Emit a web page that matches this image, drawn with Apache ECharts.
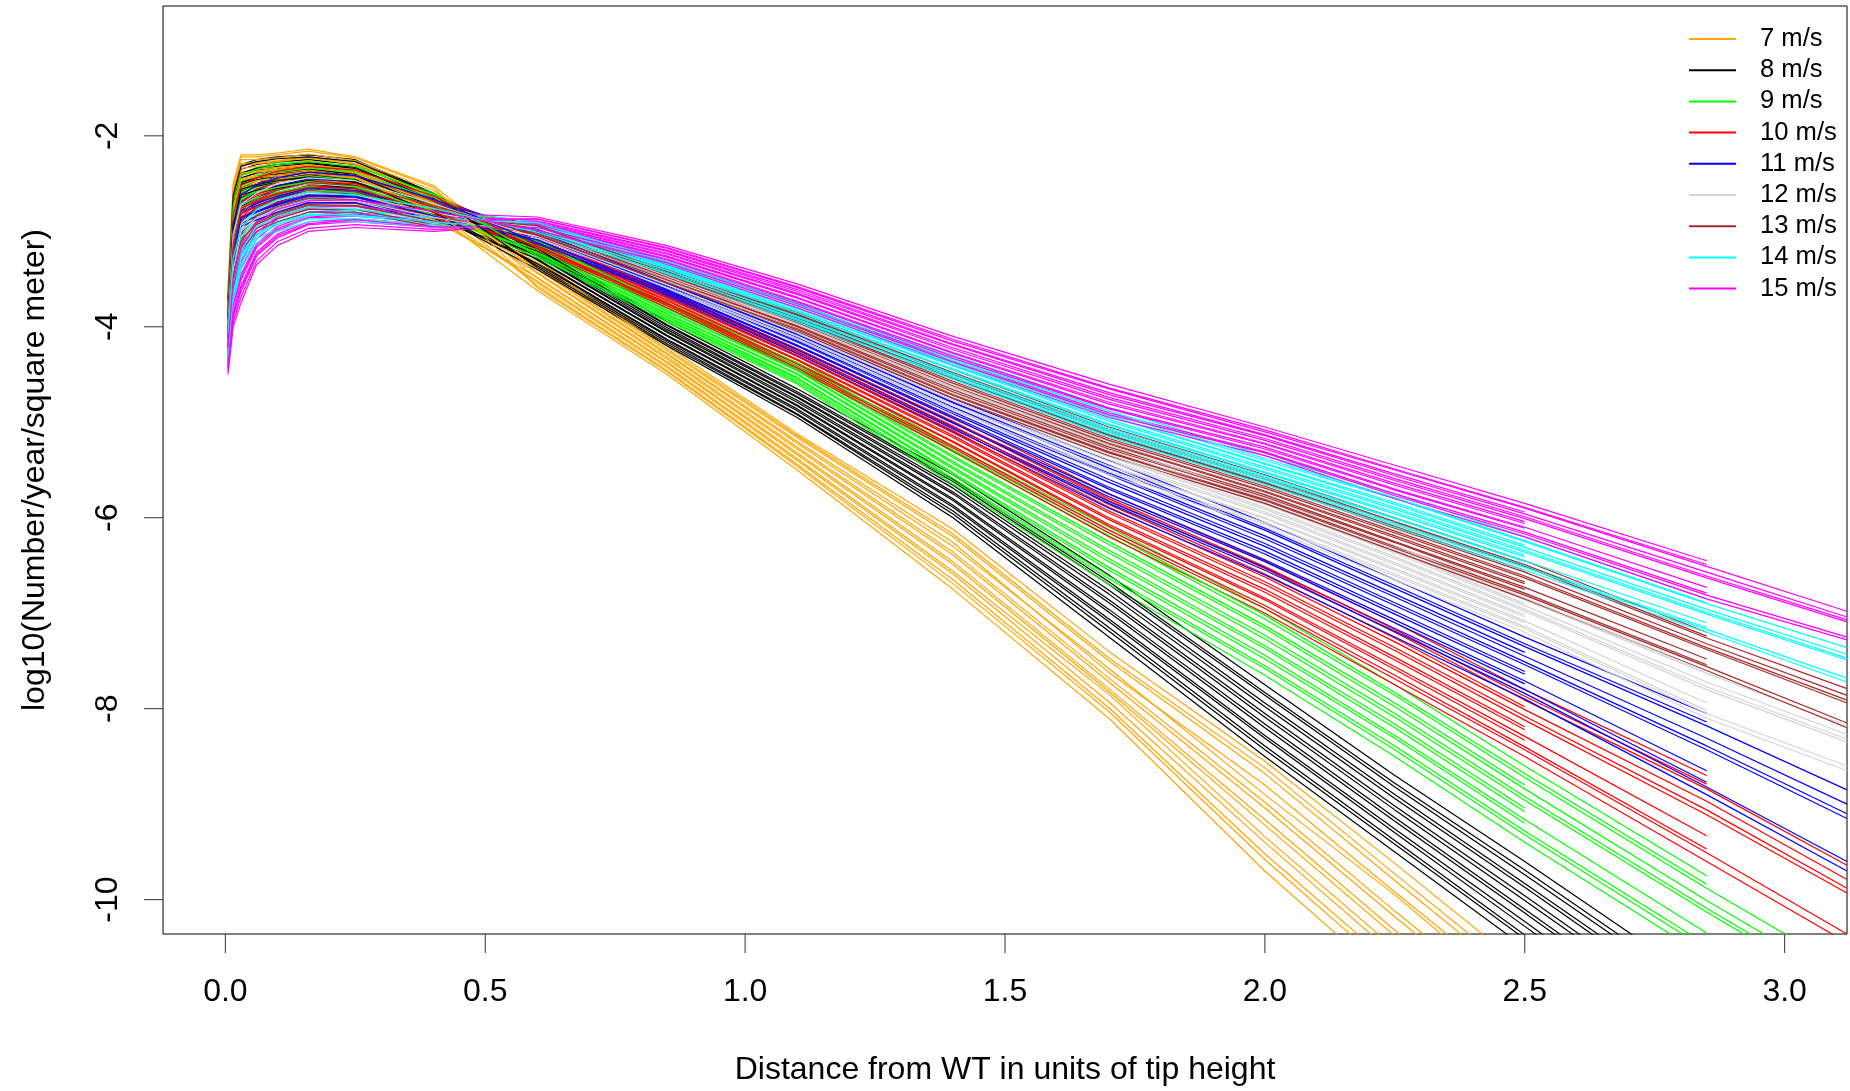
<!DOCTYPE html>
<html>
<head>
<meta charset="utf-8">
<script src="https://cdn.jsdelivr.net/npm/echarts@6/dist/echarts.min.js"></script>
<style>
  html, body { margin: 0; padding: 0; background: #fff; }
  #chart { width: 1850px; height: 1091px; }
</style>
</head>
<body>
<div id="chart"></div>
<script>
// Distance from the turbine (units of tip height) at which each curve is sampled
const distance = [0.005, 0.015, 0.03, 0.06, 0.1, 0.16, 0.25, 0.4, 0.6, 0.85, 1.1, 1.4, 1.7, 2.0, 2.25, 2.5, 2.85, 3.12];

const speedLabels = ['7 m/s', '8 m/s', '9 m/s', '10 m/s', '11 m/s', '12 m/s', '13 m/s', '14 m/s', '15 m/s'];
const speedColors = ['#FFA500', '#000000', '#00FF00', '#FF0000', '#0000FF', '#D3D3D3', '#A52A2A', '#00FFFF', '#FF00FF'];

const xTicks = [0, 0.5, 1, 1.5, 2, 2.5, 3];
const yTicks = [-10, -8, -6, -4, -2];

// log10(Number/year/square meter), one row per curve
const speed7 = [
  [-3.60, -2.50, -2.20, -2.20, -2.18, -2.14, -2.22, -2.52, -3.40, -4.29, -5.22, -6.30, -7.58, -8.90, -9.95, -11.10],
  [-3.65, -2.58, -2.25, -2.25, -2.23, -2.19, -2.26, -2.57, -3.30, -4.20, -5.12, -6.12, -7.40, -8.55, -9.62, -10.72],
  [-3.70, -2.65, -2.31, -2.29, -2.27, -2.23, -2.30, -2.63, -3.49, -4.38, -5.34, -6.49, -7.82, -9.22, -10.38, -11.48],
  [-3.74, -2.70, -2.34, -2.32, -2.30, -2.26, -2.33, -2.66, -3.35, -4.25, -5.16, -6.20, -7.50, -8.68, -9.80, -10.90],
  [-3.78, -2.75, -2.38, -2.35, -2.33, -2.30, -2.36, -2.70, -3.57, -4.46, -5.44, -6.65, -7.99, -9.52, -10.70, -11.80],
  [-3.81, -2.80, -2.41, -2.38, -2.36, -2.33, -2.39, -2.74, -3.44, -4.34, -5.28, -6.39, -7.72, -9.04, -10.18, -11.28],
  [-3.85, -2.85, -2.45, -2.41, -2.39, -2.36, -2.42, -2.77, -3.38, -4.28, -5.20, -6.26, -7.62, -8.80, -9.92, -11.02],
  [-3.88, -2.90, -2.48, -2.44, -2.42, -2.39, -2.44, -2.81, -3.62, -4.50, -5.50, -6.75, -8.10, -9.70, -10.90, -12.00],
  [-3.92, -2.95, -2.52, -2.47, -2.45, -2.42, -2.47, -2.84, -3.52, -4.41, -5.38, -6.56, -7.85, -9.34, -10.51, -11.61],
  [-3.95, -3.00, -2.55, -2.50, -2.48, -2.45, -2.50, -2.88, -3.48, -4.37, -5.32, -6.46, -7.79, -9.16, -10.32, -11.42],
  [-3.69, -2.63, -2.29, -2.28, -2.26, -2.22, -2.29, -2.61, -3.43, -4.32, -5.26, -6.36, -7.68, -8.98, -10.12, -11.22],
  [-3.79, -2.78, -2.39, -2.37, -2.35, -2.31, -2.37, -2.72, -3.33, -4.23, -5.14, -6.17, -7.47, -8.62, -9.73, -10.83],
  [-3.86, -2.88, -2.46, -2.43, -2.41, -2.37, -2.43, -2.79, -3.54, -4.43, -5.40, -6.59, -7.93, -9.40, -10.58, -11.68],
  [-3.62, -2.53, -2.22, -2.22, -2.20, -2.16, -2.23, -2.54, -3.59, -4.47, -5.46, -6.69, -8.03, -9.58, -10.77, -11.87]
];
const speed8 = [
  [-3.70, -2.60, -2.30, -2.25, -2.22, -2.20, -2.25, -2.60, -3.23, -4.03, -4.74, -5.69, -6.80, -7.98, -8.94, -9.87, -11.20],
  [-3.75, -2.68, -2.35, -2.30, -2.27, -2.25, -2.30, -2.64, -3.15, -3.95, -4.65, -5.55, -6.60, -7.75, -8.70, -9.60, -10.90],
  [-3.79, -2.75, -2.41, -2.36, -2.32, -2.29, -2.34, -2.68, -3.30, -4.10, -4.83, -5.82, -6.99, -8.20, -9.18, -10.14, -11.50],
  [-3.82, -2.80, -2.44, -2.39, -2.35, -2.32, -2.37, -2.70, -3.19, -3.99, -4.70, -5.62, -6.70, -7.86, -8.82, -9.74, -11.05],
  [-3.85, -2.85, -2.48, -2.43, -2.39, -2.35, -2.40, -2.73, -3.36, -4.16, -4.91, -5.93, -7.15, -8.39, -9.38, -10.37, -11.75],
  [-3.88, -2.90, -2.51, -2.46, -2.42, -2.38, -2.43, -2.76, -3.26, -4.06, -4.79, -5.75, -6.89, -8.09, -9.06, -10.01, -11.35],
  [-3.91, -2.95, -2.55, -2.50, -2.45, -2.41, -2.46, -2.78, -3.21, -4.01, -4.73, -5.66, -6.76, -7.94, -8.90, -9.83, -11.15],
  [-3.94, -3.00, -2.58, -2.53, -2.48, -2.44, -2.49, -2.81, -3.40, -4.20, -4.95, -6.00, -7.25, -8.50, -9.50, -10.50, -11.90],
  [-3.97, -3.05, -2.62, -2.57, -2.52, -2.47, -2.52, -2.83, -3.33, -4.13, -4.86, -5.87, -7.06, -8.28, -9.26, -10.23, -11.60],
  [-4.00, -3.10, -2.65, -2.60, -2.55, -2.50, -2.55, -2.86, -3.29, -4.09, -4.82, -5.80, -6.96, -8.16, -9.14, -10.10, -11.45],
  [-3.78, -2.73, -2.39, -2.34, -2.30, -2.28, -2.33, -2.67, -3.25, -4.05, -4.77, -5.73, -6.86, -8.05, -9.02, -9.96, -11.30],
  [-3.87, -2.88, -2.49, -2.44, -2.40, -2.37, -2.42, -2.74, -3.18, -3.98, -4.68, -5.60, -6.67, -7.83, -8.78, -9.69, -11.00],
  [-3.93, -2.98, -2.56, -2.51, -2.47, -2.43, -2.48, -2.80, -3.34, -4.14, -4.88, -5.89, -7.09, -8.31, -9.30, -10.28, -11.65],
  [-3.72, -2.63, -2.32, -2.27, -2.24, -2.22, -2.27, -2.61, -3.38, -4.18, -4.92, -5.96, -7.19, -8.43, -9.42, -10.41, -11.80]
];
const speed9 = [
  [-3.75, -2.70, -2.40, -2.33, -2.28, -2.25, -2.30, -2.60, -3.14, -3.81, -4.43, -5.37, -6.28, -7.16, -7.98, -8.84, -10.01, -10.87],
  [-3.80, -2.78, -2.45, -2.38, -2.33, -2.30, -2.35, -2.64, -3.08, -3.75, -4.35, -5.25, -6.10, -6.95, -7.75, -8.60, -9.75],
  [-3.84, -2.85, -2.51, -2.44, -2.38, -2.34, -2.39, -2.68, -3.20, -3.87, -4.50, -5.49, -6.46, -7.37, -8.20, -9.08],
  [-3.87, -2.90, -2.54, -2.47, -2.42, -2.37, -2.42, -2.70, -3.11, -3.78, -4.39, -5.31, -6.19, -7.06, -7.86, -8.72, -9.88, -10.74],
  [-3.90, -2.95, -2.58, -2.51, -2.45, -2.41, -2.45, -2.73, -3.25, -3.92, -4.56, -5.59, -6.61, -7.55, -8.39, -9.28, -10.47],
  [-3.93, -3.00, -2.61, -2.54, -2.48, -2.44, -2.48, -2.75, -3.17, -3.84, -4.46, -5.43, -6.37, -7.27, -8.09, -8.96, -10.13, -11.00],
  [-3.96, -3.05, -2.65, -2.58, -2.52, -2.47, -2.51, -2.78, -3.13, -3.80, -4.41, -5.35, -6.25, -7.13, -7.94, -8.80],
  [-3.99, -3.10, -2.68, -2.61, -2.55, -2.50, -2.54, -2.80, -3.28, -3.95, -4.60, -5.65, -6.70, -7.65, -8.50, -9.40, -10.60, -11.50],
  [-4.02, -3.15, -2.72, -2.65, -2.59, -2.53, -2.57, -2.83, -3.22, -3.89, -4.53, -5.53, -6.52, -7.44, -8.28, -9.16, -10.35],
  [-4.05, -3.20, -2.75, -2.68, -2.62, -2.56, -2.60, -2.85, -3.19, -3.86, -4.49, -5.47, -6.43, -7.34, -8.16, -9.04],
  [-3.83, -2.83, -2.49, -2.42, -2.37, -2.33, -2.38, -2.66, -3.16, -3.83, -4.45, -5.41, -6.34, -7.23, -8.05, -8.92, -10.09, -10.96],
  [-3.92, -2.98, -2.59, -2.52, -2.47, -2.42, -2.47, -2.74, -3.10, -3.77, -4.38, -5.29, -6.16, -7.02, -7.83, -8.68, -9.84],
  [-3.98, -3.08, -2.66, -2.59, -2.54, -2.48, -2.53, -2.79, -3.23, -3.90, -4.54, -5.55, -6.55, -7.48, -8.31, -9.20],
  [-3.77, -2.73, -2.42, -2.35, -2.30, -2.27, -2.32, -2.61, -3.26, -3.93, -4.58, -5.61, -6.64, -7.58, -8.43, -9.32, -10.52, -11.41]
];
const speed10 = [
  [-3.80, -2.80, -2.50, -2.42, -2.35, -2.30, -2.35, -2.62, -3.08, -3.67, -4.28, -5.06, -5.89, -6.62, -7.30, -8.01, -8.97, -9.79],
  [-3.85, -2.88, -2.55, -2.47, -2.40, -2.35, -2.39, -2.66, -3.03, -3.62, -4.20, -4.95, -5.75, -6.45, -7.10, -7.80, -8.70],
  [-3.89, -2.95, -2.61, -2.53, -2.46, -2.40, -2.43, -2.69, -3.13, -3.73, -4.35, -5.16, -6.02, -6.78, -7.49, -8.22],
  [-3.92, -3.00, -2.64, -2.56, -2.49, -2.43, -2.46, -2.72, -3.06, -3.65, -4.24, -5.00, -5.82, -6.53, -7.20, -7.91, -8.84, -9.64],
  [-3.95, -3.05, -2.68, -2.60, -2.53, -2.46, -2.49, -2.74, -3.17, -3.77, -4.41, -5.25, -6.13, -6.92, -7.65, -8.40, -9.47],
  [-3.98, -3.10, -2.71, -2.63, -2.56, -2.49, -2.51, -2.76, -3.11, -3.70, -4.31, -5.11, -5.95, -6.70, -7.39, -8.12, -9.11, -9.93],
  [-4.01, -3.15, -2.75, -2.67, -2.60, -2.52, -2.54, -2.79, -3.07, -3.66, -4.26, -5.04, -5.86, -6.59, -7.26, -7.98],
  [-4.04, -3.20, -2.78, -2.70, -2.63, -2.56, -2.57, -2.81, -3.20, -3.80, -4.45, -5.30, -6.20, -7.00, -7.75, -8.50, -9.60, -10.45],
  [-4.07, -3.25, -2.82, -2.74, -2.67, -2.59, -2.59, -2.84, -3.15, -3.75, -4.38, -5.20, -6.07, -6.84, -7.56, -8.29, -9.33],
  [-4.10, -3.30, -2.85, -2.77, -2.70, -2.62, -2.62, -2.86, -3.12, -3.72, -4.34, -5.14, -6.00, -6.75, -7.46, -8.19],
  [-3.88, -2.93, -2.59, -2.51, -2.44, -2.38, -2.42, -2.68, -3.10, -3.69, -4.30, -5.09, -5.93, -6.67, -7.36, -8.08, -9.06, -9.88],
  [-3.97, -3.08, -2.69, -2.61, -2.54, -2.48, -2.50, -2.75, -3.05, -3.64, -4.23, -4.99, -5.80, -6.51, -7.17, -7.87, -8.79],
  [-4.03, -3.18, -2.76, -2.68, -2.61, -2.54, -2.55, -2.80, -3.16, -3.76, -4.39, -5.21, -6.09, -6.86, -7.59, -8.33],
  [-3.82, -2.83, -2.52, -2.44, -2.37, -2.32, -2.36, -2.63, -3.18, -3.78, -4.43, -5.27, -6.16, -6.95, -7.69, -8.43, -9.51, -10.36]
];
const speed11 = [
  [-3.90, -2.90, -2.60, -2.50, -2.42, -2.36, -2.40, -2.65, -3.03, -3.57, -4.13, -4.86, -5.55, -6.22, -6.83, -7.45, -8.31, -9.00],
  [-3.95, -2.98, -2.65, -2.56, -2.48, -2.41, -2.45, -2.69, -2.98, -3.52, -4.05, -4.75, -5.40, -6.05, -6.65, -7.25, -8.05],
  [-3.99, -3.07, -2.71, -2.61, -2.53, -2.46, -2.49, -2.73, -3.07, -3.62, -4.20, -4.96, -5.70, -6.38, -7.01, -7.64],
  [-4.02, -3.12, -2.74, -2.65, -2.57, -2.50, -2.52, -2.75, -3.00, -3.54, -4.09, -4.80, -5.48, -6.13, -6.74, -7.35, -8.18, -8.85],
  [-4.05, -3.18, -2.78, -2.69, -2.61, -2.53, -2.55, -2.78, -3.11, -3.66, -4.26, -5.05, -5.83, -6.52, -7.16, -7.80, -8.77],
  [-4.08, -3.23, -2.81, -2.73, -2.65, -2.56, -2.58, -2.80, -3.05, -3.59, -4.16, -4.91, -5.63, -6.30, -6.92, -7.54, -8.43, -9.15],
  [-4.11, -3.29, -2.85, -2.77, -2.69, -2.60, -2.61, -2.83, -3.02, -3.56, -4.11, -4.84, -5.53, -6.19, -6.80, -7.41],
  [-4.14, -3.34, -2.88, -2.80, -2.72, -2.63, -2.64, -2.85, -3.13, -3.68, -4.30, -5.10, -5.90, -6.60, -7.25, -7.90, -8.90, -9.70],
  [-4.17, -3.40, -2.92, -2.84, -2.76, -2.67, -2.67, -2.88, -3.09, -3.63, -4.23, -5.00, -5.75, -6.44, -7.07, -7.71, -8.65],
  [-4.20, -3.45, -2.95, -2.88, -2.80, -2.70, -2.70, -2.90, -3.06, -3.61, -4.19, -4.94, -5.68, -6.35, -6.98, -7.61],
  [-3.98, -3.04, -2.69, -2.60, -2.52, -2.45, -2.48, -2.71, -3.04, -3.58, -4.15, -4.89, -5.60, -6.27, -6.89, -7.51, -8.39, -9.10],
  [-4.07, -3.20, -2.79, -2.71, -2.63, -2.55, -2.57, -2.79, -3.00, -3.54, -4.08, -4.79, -5.45, -6.11, -6.71, -7.32, -8.14],
  [-4.13, -3.31, -2.86, -2.79, -2.71, -2.62, -2.63, -2.84, -3.09, -3.64, -4.24, -5.01, -5.78, -6.46, -7.10, -7.74],
  [-3.92, -2.93, -2.62, -2.52, -2.44, -2.38, -2.42, -2.66, -3.12, -3.66, -4.28, -5.07, -5.85, -6.55, -7.19, -7.84, -8.82, -9.60]
];
const speed12 = [
  [-3.95, -3.00, -2.70, -2.58, -2.48, -2.42, -2.45, -2.70, -2.99, -3.50, -4.01, -4.69, -5.31, -5.86, -6.37, -6.92, -7.72, -8.27],
  [-4.00, -3.08, -2.76, -2.64, -2.54, -2.47, -2.50, -2.73, -2.95, -3.45, -3.95, -4.60, -5.20, -5.75, -6.25, -6.80, -7.55],
  [-4.04, -3.17, -2.82, -2.69, -2.59, -2.52, -2.54, -2.76, -3.03, -3.54, -4.07, -4.78, -5.41, -5.96, -6.49, -7.04],
  [-4.07, -3.22, -2.86, -2.73, -2.63, -2.55, -2.57, -2.78, -2.97, -3.47, -3.98, -4.65, -5.25, -5.80, -6.31, -6.86, -7.63, -8.18],
  [-4.10, -3.28, -2.90, -2.77, -2.67, -2.59, -2.60, -2.80, -3.06, -3.58, -4.12, -4.86, -5.50, -6.05, -6.59, -7.14, -8.02],
  [-4.13, -3.33, -2.94, -2.80, -2.70, -2.62, -2.63, -2.82, -3.01, -3.52, -4.04, -4.74, -5.36, -5.91, -6.43, -6.98, -7.80, -8.35],
  [-4.16, -3.39, -2.98, -2.84, -2.74, -2.65, -2.66, -2.84, -2.98, -3.49, -4.00, -4.68, -5.29, -5.84, -6.35, -6.90],
  [-4.19, -3.44, -3.02, -2.88, -2.78, -2.68, -2.69, -2.86, -3.08, -3.60, -4.15, -4.90, -5.55, -6.10, -6.65, -7.20, -8.10, -8.65],
  [-4.22, -3.50, -3.06, -2.91, -2.81, -2.72, -2.72, -2.88, -3.04, -3.56, -4.09, -4.81, -5.45, -6.00, -6.53, -7.08, -7.94],
  [-4.25, -3.55, -3.10, -2.95, -2.85, -2.75, -2.75, -2.90, -3.02, -3.53, -4.06, -4.77, -5.39, -5.94, -6.47, -7.02],
  [-4.03, -3.14, -2.80, -2.67, -2.57, -2.50, -2.53, -2.75, -3.00, -3.51, -4.03, -4.72, -5.34, -5.89, -6.41, -6.96, -7.77, -8.32],
  [-4.12, -3.30, -2.92, -2.78, -2.68, -2.60, -2.62, -2.81, -2.96, -3.47, -3.97, -4.63, -5.24, -5.79, -6.29, -6.84, -7.61],
  [-4.18, -3.41, -3.00, -2.86, -2.76, -2.67, -2.68, -2.85, -3.05, -3.56, -4.10, -4.83, -5.46, -6.01, -6.55, -7.10],
  [-3.97, -3.03, -2.72, -2.60, -2.50, -2.44, -2.47, -2.71, -3.07, -3.59, -4.13, -4.87, -5.52, -6.07, -6.61, -7.16, -8.05, -8.60]
];
const speed13 = [
  [-4.00, -3.10, -2.80, -2.65, -2.55, -2.47, -2.50, -2.72, -2.97, -3.45, -3.91, -4.54, -5.14, -5.64, -6.11, -6.57, -7.32, -7.86],
  [-4.05, -3.18, -2.86, -2.70, -2.60, -2.52, -2.55, -2.75, -2.93, -3.40, -3.85, -4.45, -5.05, -5.55, -6.00, -6.45, -7.20],
  [-4.09, -3.25, -2.92, -2.76, -2.66, -2.57, -2.59, -2.79, -3.00, -3.49, -3.97, -4.63, -5.23, -5.73, -6.21, -6.69],
  [-4.12, -3.30, -2.96, -2.79, -2.69, -2.60, -2.62, -2.81, -2.95, -3.42, -3.88, -4.50, -5.10, -5.60, -6.05, -6.51, -7.26, -7.79],
  [-4.15, -3.35, -3.00, -2.83, -2.73, -2.64, -2.65, -2.84, -3.03, -3.53, -4.02, -4.71, -5.31, -5.81, -6.30, -6.79, -7.54],
  [-4.18, -3.40, -3.04, -2.86, -2.76, -2.67, -2.68, -2.86, -2.98, -3.47, -3.94, -4.59, -5.19, -5.69, -6.16, -6.63, -7.38, -7.94],
  [-4.21, -3.45, -3.08, -2.90, -2.80, -2.70, -2.71, -2.88, -2.96, -3.44, -3.90, -4.53, -5.13, -5.63, -6.09, -6.55],
  [-4.24, -3.50, -3.12, -2.93, -2.83, -2.73, -2.74, -2.90, -3.05, -3.55, -4.05, -4.75, -5.35, -5.85, -6.35, -6.85, -7.60, -8.20],
  [-4.27, -3.55, -3.16, -2.97, -2.87, -2.77, -2.77, -2.93, -3.01, -3.51, -3.99, -4.66, -5.26, -5.76, -6.25, -6.73, -7.48],
  [-4.30, -3.60, -3.20, -3.00, -2.90, -2.80, -2.80, -2.95, -2.99, -3.48, -3.96, -4.62, -5.22, -5.72, -6.19, -6.67],
  [-4.08, -3.23, -2.90, -2.74, -2.64, -2.55, -2.58, -2.78, -2.98, -3.46, -3.93, -4.57, -5.17, -5.67, -6.14, -6.61, -7.36, -7.91],
  [-4.17, -3.38, -3.02, -2.84, -2.74, -2.65, -2.67, -2.85, -2.94, -3.42, -3.87, -4.48, -5.08, -5.58, -6.04, -6.49, -7.24],
  [-4.23, -3.48, -3.10, -2.91, -2.81, -2.72, -2.73, -2.89, -3.02, -3.51, -4.00, -4.68, -5.28, -5.78, -6.26, -6.75],
  [-4.02, -3.13, -2.82, -2.67, -2.57, -2.49, -2.52, -2.73, -3.04, -3.54, -4.03, -4.72, -5.32, -5.82, -6.32, -6.81, -7.56, -8.15]
];
const speed14 = [
  [-4.05, -3.25, -2.95, -2.75, -2.65, -2.57, -2.60, -2.75, -2.94, -3.35, -3.81, -4.38, -4.94, -5.44, -5.86, -6.31, -6.96, -7.43],
  [-4.10, -3.33, -3.02, -2.81, -2.70, -2.62, -2.65, -2.78, -2.90, -3.30, -3.75, -4.30, -4.85, -5.35, -5.75, -6.20, -6.85],
  [-4.15, -3.42, -3.09, -2.86, -2.76, -2.67, -2.69, -2.81, -2.97, -3.39, -3.87, -4.45, -5.03, -5.53, -5.96, -6.41],
  [-4.19, -3.47, -3.13, -2.90, -2.79, -2.70, -2.72, -2.83, -2.92, -3.32, -3.78, -4.34, -4.90, -5.40, -5.80, -6.25, -6.90, -7.36],
  [-4.22, -3.52, -3.17, -2.93, -2.82, -2.73, -2.75, -2.85, -3.00, -3.43, -3.92, -4.51, -5.10, -5.60, -6.05, -6.50, -7.15],
  [-4.26, -3.58, -3.22, -2.97, -2.86, -2.77, -2.78, -2.87, -2.95, -3.37, -3.84, -4.41, -4.99, -5.49, -5.91, -6.36, -7.01, -7.49],
  [-4.30, -3.63, -3.26, -3.01, -2.90, -2.80, -2.81, -2.89, -2.93, -3.34, -3.80, -4.36, -4.93, -5.43, -5.84, -6.29],
  [-4.33, -3.69, -3.31, -3.05, -2.93, -2.83, -2.84, -2.91, -3.02, -3.45, -3.95, -4.55, -5.15, -5.65, -6.10, -6.55, -7.20, -7.72],
  [-4.37, -3.75, -3.36, -3.08, -2.97, -2.87, -2.87, -2.93, -2.98, -3.41, -3.89, -4.48, -5.06, -5.56, -6.00, -6.45, -7.10],
  [-4.40, -3.80, -3.40, -3.12, -3.00, -2.90, -2.90, -2.95, -2.97, -3.38, -3.86, -4.44, -5.02, -5.52, -5.94, -6.39],
  [-4.14, -3.39, -3.06, -2.84, -2.74, -2.65, -2.68, -2.80, -2.95, -3.36, -3.83, -4.40, -4.97, -5.47, -5.89, -6.34, -6.99, -7.47],
  [-4.24, -3.55, -3.20, -2.95, -2.84, -2.75, -2.77, -2.86, -2.91, -3.32, -3.77, -4.33, -4.88, -5.38, -5.79, -6.24, -6.89],
  [-4.31, -3.66, -3.29, -3.03, -2.91, -2.82, -2.83, -2.90, -2.99, -3.41, -3.90, -4.49, -5.08, -5.58, -6.01, -6.46],
  [-4.07, -3.28, -2.97, -2.77, -2.67, -2.59, -2.62, -2.76, -3.01, -3.44, -3.93, -4.53, -5.12, -5.62, -6.07, -6.52, -7.17, -7.68]
];
const speed15 = [
  [-4.20, -3.50, -3.15, -2.90, -2.75, -2.66, -2.65, -2.78, -2.90, -3.21, -3.63, -4.19, -4.71, -5.14, -5.56, -5.96, -6.57, -7.04],
  [-4.25, -3.58, -3.24, -2.97, -2.81, -2.71, -2.70, -2.81, -2.85, -3.15, -3.55, -4.10, -4.60, -5.05, -5.45, -5.85, -6.45],
  [-4.29, -3.65, -3.33, -3.04, -2.87, -2.76, -2.74, -2.85, -2.94, -3.27, -3.70, -4.28, -4.81, -5.23, -5.66, -6.06],
  [-4.32, -3.70, -3.39, -3.08, -2.91, -2.80, -2.77, -2.87, -2.87, -3.18, -3.59, -4.15, -4.65, -5.10, -5.50, -5.90, -6.51, -6.98],
  [-4.35, -3.75, -3.45, -3.13, -2.95, -2.83, -2.80, -2.89, -2.98, -3.32, -3.76, -4.36, -4.90, -5.31, -5.75, -6.15, -6.79],
  [-4.38, -3.80, -3.51, -3.17, -2.99, -2.86, -2.84, -2.91, -2.92, -3.24, -3.66, -4.24, -4.76, -5.19, -5.61, -6.01, -6.63, -7.09],
  [-4.41, -3.85, -3.57, -3.22, -3.03, -2.90, -2.87, -2.93, -2.89, -3.20, -3.61, -4.18, -4.69, -5.13, -5.54, -5.94],
  [-4.44, -3.90, -3.63, -3.26, -3.07, -2.93, -2.90, -2.96, -3.00, -3.35, -3.80, -4.40, -4.95, -5.35, -5.80, -6.20, -6.85, -7.28],
  [-4.47, -3.95, -3.69, -3.31, -3.11, -2.97, -2.93, -2.98, -2.96, -3.29, -3.73, -4.31, -4.85, -5.26, -5.70, -6.10, -6.73],
  [-4.50, -4.00, -3.75, -3.35, -3.15, -3.00, -2.96, -3.00, -2.93, -3.26, -3.69, -4.27, -4.79, -5.22, -5.64, -6.04],
  [-4.28, -3.63, -3.30, -3.01, -2.85, -2.75, -2.73, -2.84, -2.91, -3.23, -3.65, -4.22, -4.74, -5.17, -5.59, -5.99, -6.61, -7.07],
  [-4.37, -3.78, -3.48, -3.15, -2.97, -2.85, -2.82, -2.90, -2.87, -3.17, -3.58, -4.13, -4.64, -5.08, -5.49, -5.89, -6.49],
  [-4.43, -3.88, -3.60, -3.24, -3.05, -2.92, -2.88, -2.95, -2.96, -3.30, -3.74, -4.33, -4.86, -5.28, -5.71, -6.11],
  [-4.22, -3.53, -3.18, -2.92, -2.77, -2.68, -2.67, -2.79, -2.99, -3.33, -3.78, -4.37, -4.92, -5.32, -5.77, -6.17, -6.81, -7.25]
];

const speedCurves = [speed7, speed8, speed9, speed10, speed11, speed12, speed13, speed14, speed15];

const FONT = '"Liberation Sans", Arial, sans-serif';
const X_MIN = -0.12, X_MAX = 3.12;
const Y_MIN = -10.36, Y_MAX = -0.64;

// Curves are interleaved across wind speeds so that no colour hides the others near the peak
const series = [];
const curveCount = Math.max(...speedCurves.map(c => c.length));
for (let i = 0; i < curveCount; i++) {
  speedCurves.forEach((curves, s) => {
    const row = curves[i];
    if (!row) return;
    series.push({
      type: 'line',
      name: speedLabels[s],
      data: row.map((v, k) => [distance[k], v]),
      symbol: 'none',
      showSymbol: false,
      clip: true,
      silent: true,
      animation: false,
      itemStyle: { color: speedColors[s] },
      lineStyle: { color: speedColors[s], width: 1.2 }
    });
  });
}

// Each axis label carries its own outward tick: a thin filled box (the tick)
// followed by the value text, laid out by the axis at each tick value.
const tickToken = { width: 1, height: 19, lineHeight: 19, backgroundColor: '#333' };

const chart = echarts.init(document.getElementById('chart'), null, { renderer: 'canvas' });
chart.setOption({
  animation: false,
  backgroundColor: '#ffffff',
  grid: {
    left: 163, right: 3, top: 6, bottom: 156,
    show: true, borderColor: '#000', borderWidth: 1, backgroundColor: 'transparent'
  },
  legend: {
    data: speedLabels,
    orient: 'vertical',
    left: 1689,
    top: 26,
    padding: 0,
    itemGap: 5.2,
    itemWidth: 47,
    itemHeight: 2,
    icon: 'path://M0,0H47V2H0Z',
    selectedMode: false,
    textStyle: { fontFamily: FONT, fontSize: 25.6, color: '#000', lineHeight: 26, padding: [0, 0, 0, 19] }
  },
  xAxis: {
    type: 'value',
    position: 'bottom',
    min: X_MIN,
    max: X_MAX,
    name: 'Distance from WT in units of tip height',
    nameLocation: 'middle',
    nameGap: 120,
    nameTextStyle: { fontFamily: FONT, fontSize: 32, color: '#000' },
    axisLine: { show: false, onZero: false },
    splitLine: { show: false },
    axisTick: { show: false },
    axisLabel: {
      customValues: xTicks,
      margin: 0,
      formatter: v => '{tick|}\n{val|' + Number(v).toFixed(1) + '}',
      rich: {
        tick: tickToken,
        val: { fontFamily: FONT, fontSize: 32, color: '#000', lineHeight: 78 }
      }
    }
  },
  yAxis: {
    type: 'value',
    position: 'left',
    min: Y_MIN,
    max: Y_MAX,
    name: 'log10(Number/year/square meter)',
    nameLocation: 'middle',
    nameRotate: 90,
    nameGap: 112,
    nameTextStyle: { fontFamily: FONT, fontSize: 32, color: '#000' },
    axisLine: { show: false, onZero: false },
    splitLine: { show: false },
    axisTick: { show: false },
    axisLabel: {
      customValues: yTicks,
      rotate: 90,
      margin: 0,
      formatter: v => '{val|' + String(v) + '}\n{tick|}',
      rich: {
        tick: tickToken,
        val: { fontFamily: FONT, fontSize: 32, color: '#000', lineHeight: 71 }
      }
    }
  },
  series: series
});
</script>
</body>
</html>
